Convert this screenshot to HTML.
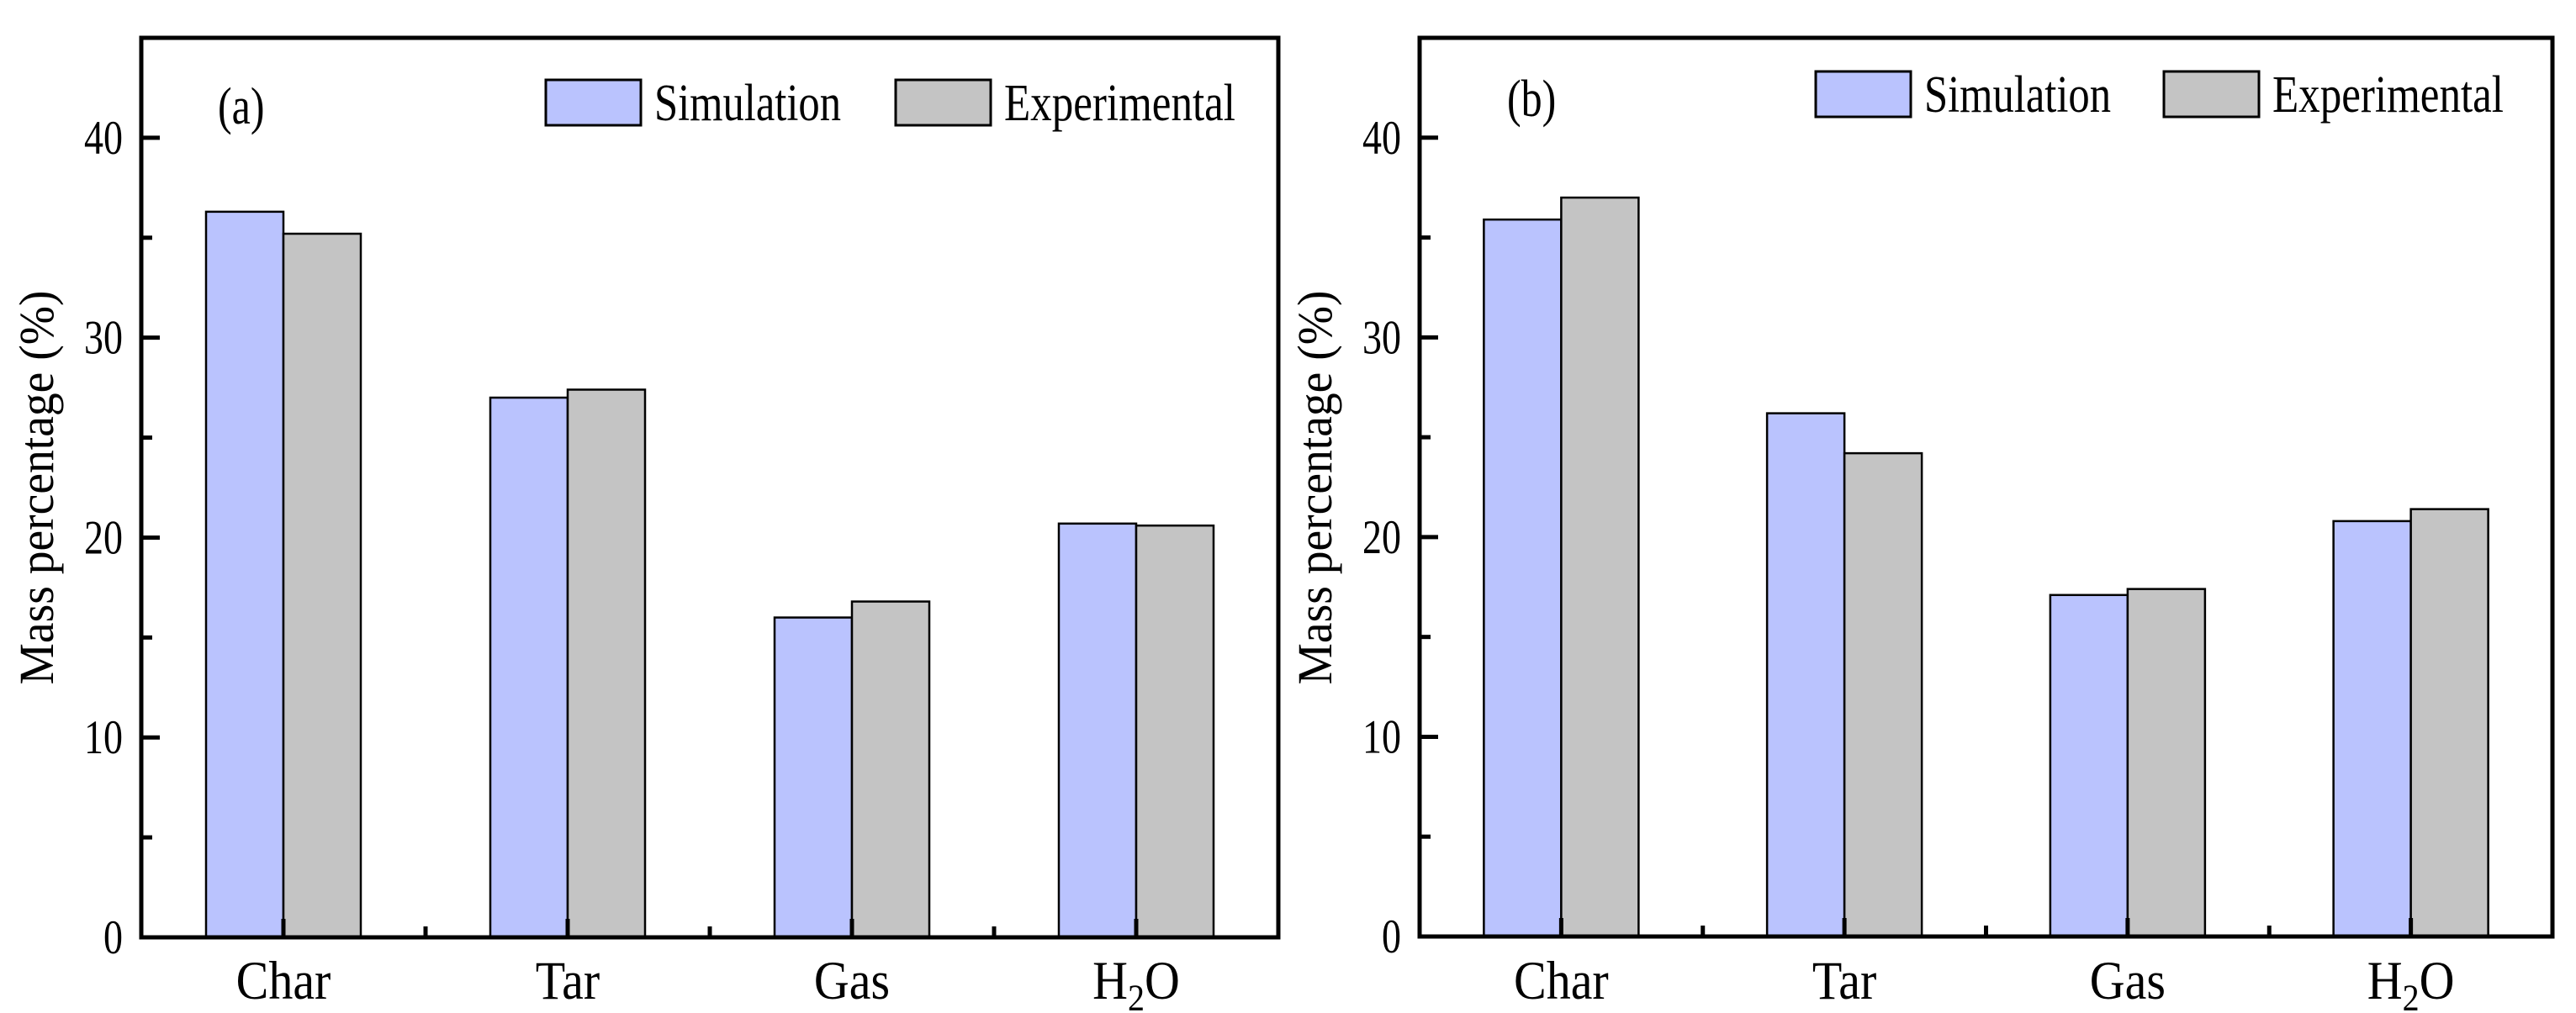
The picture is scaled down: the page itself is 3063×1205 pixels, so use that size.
<!DOCTYPE html>
<html><head><meta charset="utf-8"><style>
html,body{margin:0;padding:0;background:#fff;}
svg{display:block;font-family:"Liberation Serif",serif;}
</style></head><body>
<svg id="chart" width="3063" height="1205" viewBox="0 0 3063 1205" xmlns="http://www.w3.org/2000/svg"></svg>
<script>
const categories = ["Char", "Tar", "Gas", "H2O"];
const simA = [36.3, 27.0, 16.0, 20.7];
const expA = [35.2, 27.4, 16.8, 20.6];
const simB = [35.9, 26.2, 17.1, 20.8];
const expB = [37.0, 24.2, 17.4, 21.4];
const yTicks = [0, 10, 20, 30, 40];
const yMax = 45;

const NS = "http://www.w3.org/2000/svg";
const svg = document.getElementById("chart");
function mk(tag, attrs, parent, text) {
  const e = document.createElementNS(NS, tag);
  for (const k in attrs) e.setAttribute(k, attrs[k]);
  if (text !== undefined) e.textContent = text;
  (parent || svg).appendChild(e);
  return e;
}

function panel(id, L, R, T, B, sim, exp, label, labelX, labelY, leg) {
  const g = mk("g", {});
  
  
  const yScale = v => B - (v / yMax) * (B - T);
  const band = (R - L) / categories.length;
  const xc = i => L + band * (i + 0.5);
  const bw = 92;
  categories.forEach((c, i) => {
    const ys = yScale(sim[i]);
    const r1 = mk("rect", {x: xc(i) - bw, y: ys, width: bw, height: B - ys, fill: "#BAC3FE", stroke: "#000", "stroke-width": 2.5}, g);
    
    
    const ye = yScale(exp[i]);
    const r2 = mk("rect", {x: xc(i), y: ye, width: bw, height: B - ye, fill: "#C4C4C4", stroke: "#000", "stroke-width": 2.5}, g);
    
    
  });
  const fr = mk("rect", {x: L, y: T, width: R - L, height: B - T, fill: "none", stroke: "#000", "stroke-width": 5}, g);
  
  
  for (let v = 0; v <= 45; v += 5) {
    const y = yScale(v);
    const major = v % 10 === 0;
    mk("line", {x1: L, x2: L + (major ? 22 : 13), y1: y, y2: y, stroke: "#000", "stroke-width": 5}, g);
  }
  yTicks.forEach(v => {
    const t = mk("text", {x: 0, y: 0, "text-anchor": "end", "font-size": 46, transform: `translate(${L - 22},${yScale(v) + 19}) scale(1,1.25)`}, g, String(v));
    
    
  });
  categories.forEach((c, i) => {
    mk("line", {x1: xc(i), x2: xc(i), y1: B, y2: B - 22, stroke: "#000", "stroke-width": 5}, g);
    if (i > 0) mk("line", {x1: L + band * i, x2: L + band * i, y1: B, y2: B - 13, stroke: "#000", "stroke-width": 5}, g);
    const t = mk("text", {x: 0, y: 0, "text-anchor": "middle", "font-size": 58, transform: `translate(${xc(i)},1188) scale(1,1.12)`}, g);
    
    
    if (c === "H2O") {
      mk("tspan", {}, t, "H");
      mk("tspan", {dy: 12, "font-size": 40}, t, "2");
      mk("tspan", {dy: -12}, t, "O");
    } else {
      t.textContent = c;
    }
  });
  const yt = mk("text", {x: 0, y: 0, "text-anchor": "middle", "font-size": 58, textLength: 469, lengthAdjust: "spacingAndGlyphs", transform: `translate(${L - 105},580) rotate(-90)`}, g, "Mass percentage (%)");
  
  
  const pl = mk("text", {x: 0, y: 0, "font-size": 50, transform: `translate(${labelX},${labelY}) scale(1,1.25)`}, g, label);
  
  
  const lg = mk("g", {}, g);
  
  
  const e1 = mk("rect", {x: leg.sx, y: leg.y, width: 113, height: 54, fill: "#BAC3FE", stroke: "#000", "stroke-width": 3}, lg);
  
  
  const t1 = mk("text", {x: 0, y: 0, "font-size": 50, textLength: 222, lengthAdjust: "spacingAndGlyphs", transform: `translate(${leg.sx + 129},${leg.y + 48}) scale(1,1.25)`}, lg, "Simulation");
  
  
  const e2 = mk("rect", {x: leg.ex, y: leg.y, width: 113, height: 54, fill: "#C4C4C4", stroke: "#000", "stroke-width": 3}, lg);
  
  
  const t2 = mk("text", {x: 0, y: 0, "font-size": 50, textLength: 275, lengthAdjust: "spacingAndGlyphs", transform: `translate(${leg.ex + 129},${leg.y + 48}) scale(1,1.25)`}, lg, "Experimental");
  
  
}

panel("a", 168, 1520, 45, 1115, simA, expA, "(a)", 259, 147, {sx: 649, ex: 1065, y: 95});
panel("b", 1688, 3035, 45, 1114, simB, expB, "(b)", 1792, 138, {sx: 2159, ex: 2573, y: 85});
</script>
</body></html>
